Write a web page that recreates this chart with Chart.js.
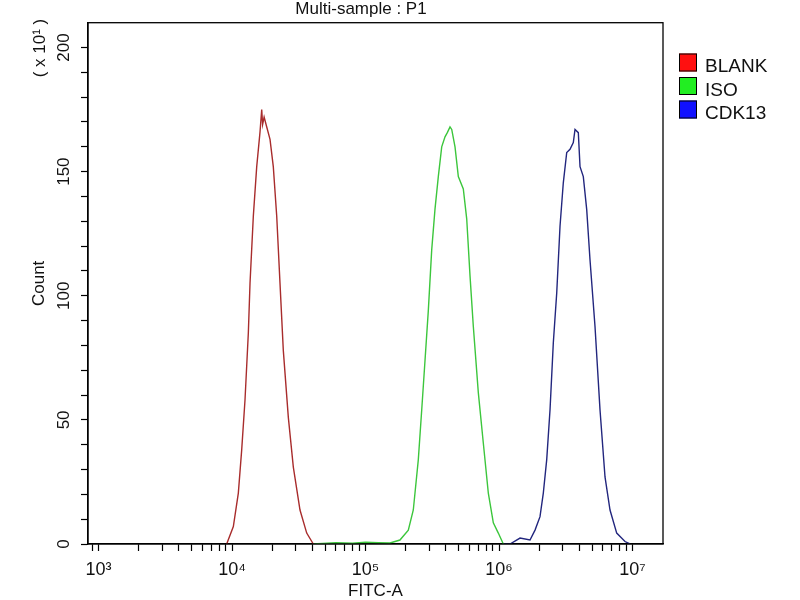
<!DOCTYPE html>
<html>
<head>
<meta charset="utf-8">
<title>Multi-sample : P1</title>
<script src="https://cdn.jsdelivr.net/npm/chart.js@4/dist/chart.umd.min.js"></script>
<style>
  html, body { margin: 0; padding: 0; background: #fff; }
  #wrap { width: 800px; height: 600px; }
</style>
</head>
<body>
<div id="wrap"><canvas id="histo" width="800" height="600"></canvas></div>
<script>
// FITC-A histogram overlay (3 samples)

// --- data (FITC-A intensity, count x10) ---
const blankX = [9120, 10230, 11150, 11820, 12510, 13250, 13640, 14440, 15310, 16210, 16690, 16950, 17400, 18200, 19260, 20380, 21620, 22880, 24220, 26410, 28790, 32300, 36270, 40640];
const blankY = [0, 7, 20.5, 38, 58, 85, 105, 132, 152, 166, 175, 169, 172, 168, 163, 152, 132, 105, 78, 51, 31, 13.7, 4.4, 0];

const isoX = [40640, 60000, 80000, 100000, 125000, 152600, 181100, 209200, 228000, 248600, 263600, 279100, 295400, 313200, 331600, 351000, 372200, 394000, 410000, 429500, 442400, 468200, 495700, 540200, 572800, 606500, 642100, 699800, 762700, 831600, 906500, 988100, 1077000];
const isoY = [0, 0.5, 0.3, 0.7, 0.5, 0.4, 1.6, 5.6, 13.7, 34, 54, 74, 94, 118.5, 135, 148, 160, 164, 165.7, 168, 167, 160, 148, 143, 131, 108, 87.6, 61, 40.7, 20.5, 8.5, 4.4, 0];

const cdkX = [1077000, 1209000, 1437000, 1707000, 1861000, 2028000, 2147000, 2277000, 2410000, 2551000, 2705000, 2864000, 3031000, 3215000, 3403000, 3602000, 3710000, 3927000, 4044000, 4280000, 4539000, 4804000, 5237000, 5710000, 6223000, 6784000, 7614000, 8785000, 9579000];
const cdkY = [0, 0, 2.4, 1.6, 5.6, 11, 20.5, 34, 54, 81, 101, 128, 145.5, 157.7, 159, 161.7, 167, 165.7, 152, 148, 134.7, 114.5, 87.6, 54, 27, 13.7, 4.4, 1, 0];

const seriesNames = ['BLANK', 'ISO', 'CDK13'];

// tick labels
const xDecades = [1e3, 1e4, 1e5, 1e6, 1e7];
const xDecadeLabels = ['10³', '10⁴', '10⁵', '10⁶', '10⁷'];
const yMajorTicks = [0, 50, 100, 150, 200];
const yMajorLabels = ['0', '50', '100', '150', '200'];

const chartTitle = 'Multi-sample : P1';
const xTitle = 'FITC-A';
const yTitle = 'Count';
const yUnit = '( x 10¹ )';

// --- styles ---
const FONT = "'Liberation Sans', Arial, 'DejaVu Sans', sans-serif";
const lineColors = ['#a82c2c', '#3cc63c', '#22267e'];
const legendColors = ['#ff1010', '#22ee22', '#1010ff'];

// tick positions: minor ticks at 2..9 x decade, plus 900 at the left edge
const xTickValues = [900];
xDecades.forEach(d => {
    for (let m = 1; m <= 9; m++) {
        const v = d * m;
        if (v <= 1e7) xTickValues.push(v);
    }
});
const yTickValues = [];
for (let v = 0; v <= 200; v += 10) yTickValues.push(v);

function toPoints(xs, ys) {
    return xs.map((x, i) => ({ x: x, y: ys[i] }));
}

// box round the plot, title, unit and legend
const framePlugin = {
    id: 'frame',
    afterDraw(chart) {
        const { ctx, chartArea: a } = chart;
        ctx.save();
        ctx.strokeStyle = '#000';
        ctx.lineWidth = 1.3;
        ctx.strokeRect(a.left, a.top, a.right - a.left, a.bottom - a.top);

        ctx.fillStyle = '#111';
        ctx.font = '17px ' + FONT;
        ctx.textAlign = 'center';
        ctx.textBaseline = 'alphabetic';
        ctx.fillText(chartTitle, 361, 14);

        ctx.save();
        ctx.translate(40, 48);
        ctx.rotate(-Math.PI / 2);
        ctx.textBaseline = 'middle';
        ctx.fillText(yUnit, 0, 0);
        ctx.restore();

        // legend
        ctx.font = '19px ' + FONT;
        ctx.textAlign = 'left';
        chart.data.datasets.forEach((ds, i) => {
            const top = 53.5 + i * 23.5;
            ctx.fillStyle = legendColors[i];
            ctx.fillRect(679, top, 18, 18);
            ctx.strokeStyle = '#000';
            ctx.lineWidth = 1;
            ctx.strokeRect(679.5, top + 0.5, 17, 17);
            ctx.fillStyle = '#111';
            ctx.fillText(ds.label, 705, top + 18.5);
        });
        ctx.restore();
    }
};

Chart.defaults.font.family = FONT;
Chart.defaults.color = '#111';

const chart = new Chart(document.getElementById('histo'), {
    type: 'line',
    data: {
        datasets: [
            { label: seriesNames[0], data: toPoints(blankX, blankY), borderColor: lineColors[0] },
            { label: seriesNames[1], data: toPoints(isoX, isoY), borderColor: lineColors[1] },
            { label: seriesNames[2], data: toPoints(cdkX, cdkY), borderColor: lineColors[2] }
        ]
    },
    options: {
        responsive: false,
        animation: false,
        devicePixelRatio: 1,
        layout: { padding: { left: 0, right: 137, top: 22.7, bottom: 0 } },
        elements: {
            line: { borderWidth: 1.4, tension: 0, fill: false },
            point: { radius: 0 }
        },
        plugins: {
            legend: { display: false },
            title: { display: false },
            tooltip: { enabled: false }
        },
        scales: {
            x: {
                type: 'logarithmic',
                min: 834,
                max: 1.692e7,
                afterFit(scale) { scale.height = 56; },
                afterBuildTicks(scale) {
                    scale.ticks = xTickValues.map(v => ({ value: v }));
                },
                border: { color: '#000', width: 1.3 },
                grid: { drawOnChartArea: false, tickLength: 7, tickColor: '#000', tickWidth: 1.2 },
                ticks: {
                    autoSkip: false,
                    maxRotation: 0,
                    padding: 8,
                    font: { size: 18 },
                    callback(value) {
                        const i = xDecades.indexOf(value);
                        return i >= 0 ? xDecadeLabels[i] : '';
                    }
                },
                title: {
                    display: true,
                    text: xTitle,
                    font: { size: 17 },
                    padding: { top: 0, bottom: -2 }
                }
            },
            y: {
                type: 'linear',
                min: 0,
                max: 210,
                afterFit(scale) { scale.width = 88; },
                afterBuildTicks(scale) {
                    scale.ticks = yTickValues.map(v => ({ value: v }));
                },
                border: { color: '#000', width: 1.3 },
                grid: { drawOnChartArea: false, tickLength: 7, tickColor: '#000', tickWidth: 1.2 },
                ticks: {
                    autoSkip: false,
                    minRotation: 90,
                    maxRotation: 90,
                    crossAlign: 'center',
                    padding: 3,
                    font: { size: 17 },
                    callback(value) {
                        const i = yMajorTicks.indexOf(value);
                        return i >= 0 ? yMajorLabels[i] : '';
                    }
                },
                title: {
                    display: true,
                    text: yTitle,
                    font: { size: 17 },
                    padding: { top: 29, bottom: 0 }
                }
            }
        }
    },
    plugins: [framePlugin]
});
</script>
</body>
</html>
